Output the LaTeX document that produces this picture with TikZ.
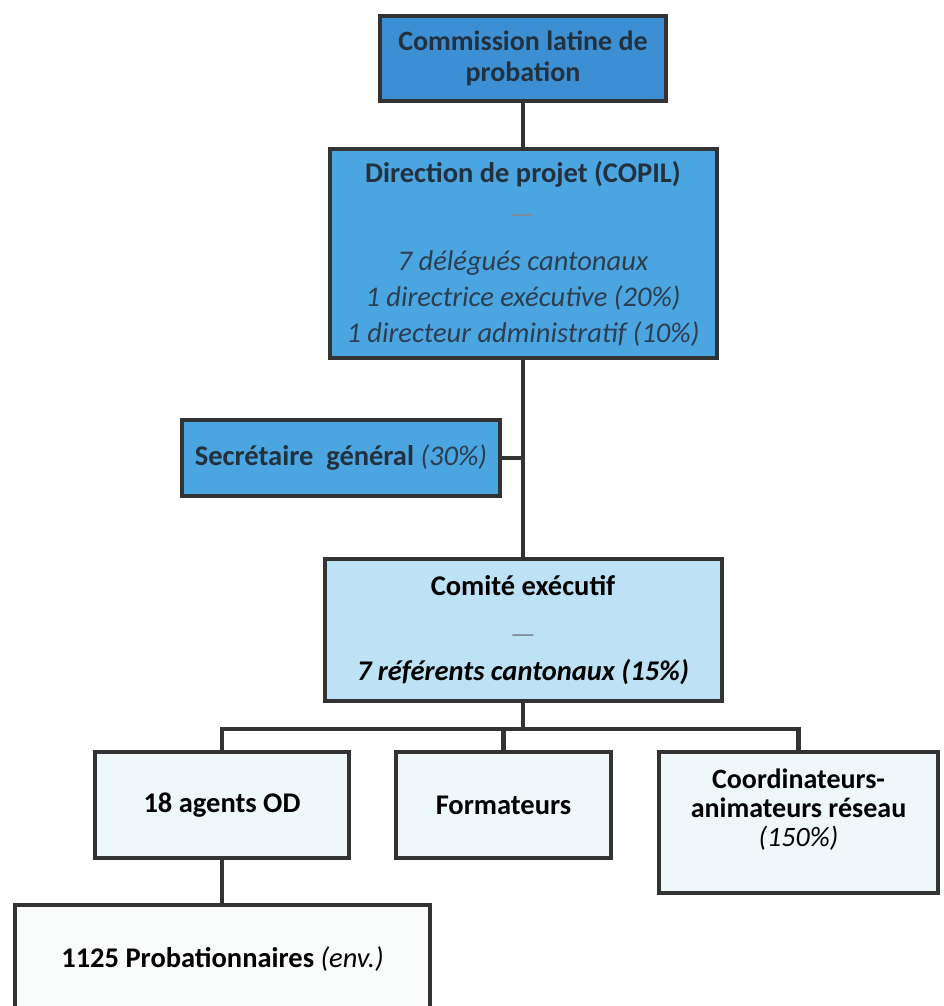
\documentclass[tikz,border=0pt]{standalone}
\usepackage{fontspec}
\setmainfont{Carlito}
\definecolor{cplfill}{HTML}{3C8FD3}
\definecolor{dirfill}{HTML}{4BA5E1}
\definecolor{comfill}{HTML}{BEE2F5}
\definecolor{lowfill}{HTML}{EEF7FA}
\definecolor{probfill}{HTML}{FAFBFB}
\definecolor{boxline}{HTML}{333333}
\definecolor{darktext}{HTML}{23313F}
\definecolor{italtext}{HTML}{2C3E50}
\definecolor{dashgray}{HTML}{7F8C99}
\tikzset{
  box/.style={draw=boxline, line width=4pt, align=center, inner sep=0pt},
  bigtext/.style={font=\fontsize{28.5}{36}\selectfont\bfseries},
  link/.style={draw=boxline, line width=4.5pt},
}
\begin{document}
\begin{tikzpicture}[x=1pt, y=-1pt]
\useasboundingbox (0,0) rectangle (943,1006);
\fill[white] (0,0) rectangle (943,1006);
\clip (0,0) rectangle (943,1006);
% upper boxes
\node[box, fill=cplfill, text=darktext, minimum width=286pt, minimum height=85pt,
  font=\fontsize{28}{31}\selectfont\bfseries] (cpl) at (523,58.5) {Commission latine de\\ probation};
\node[box, bigtext, fill=dirfill, text=darktext, minimum width=387pt, minimum height=209pt] (dir) at (523,253.5)
  {Direction de projet (COPIL)\\[5pt]
   {\mdseries\color{dashgray}---}\\[11pt]
   {\mdseries\itshape\color{italtext}7 délégués cantonaux}\\
   {\mdseries\itshape\color{italtext}1 directrice exécutive (20\%)}\\
   {\mdseries\itshape\color{italtext}1 directeur administratif (10\%)}};
\node[box, bigtext, fill=dirfill, text=darktext, minimum width=318pt, minimum height=76pt] (sec) at (341,458)
  {Secrétaire\ \ général {\mdseries\itshape\color{italtext}(30\%)}};
\node[box, bigtext, fill=comfill, text=black, minimum width=397pt, minimum height=142pt] (com) at (523,630)
  {Comité exécutif\\[12pt]
   {\mdseries\color{dashgray}---}\\[1pt]
   {\itshape 7 référents cantonaux (15\%)}};
% lower boxes
\node[box, bigtext, fill=lowfill, minimum width=254pt, minimum height=106pt] (agents) at (222,805) {18 agents OD};
\node[box, bigtext, fill=lowfill, minimum width=215pt, minimum height=106pt] (form) at (503.5,805) {Formateurs};
\node[box, fill=lowfill, minimum width=279pt, minimum height=141pt,
  font=\fontsize{28}{29}\selectfont\bfseries] (coord) at (798.5,822.5)
  {Coordinateurs-\\ animateurs réseau\\ {\mdseries\itshape (150\%)}\\ \mbox{}};
\node[box, bigtext, fill=probfill, minimum width=415pt, minimum height=108pt] (prob) at (222.5,959)
  {1125 Probationnaires {\mdseries\itshape (env.)}};
% links
\coordinate (bar) at (523,729);
\draw[link] (cpl) -- (dir);
\draw[link] (dir) -- (com);
\draw[link] (sec) -- (sec -| dir);
\draw[link] (com) -- (bar);
\draw[link] (bar) -| (agents);
\draw[link] (bar) -| (form);
\draw[link] (bar) -| (coord);
\draw[link] (agents) -- (agents |- prob.north);
\end{tikzpicture}
\end{document}
